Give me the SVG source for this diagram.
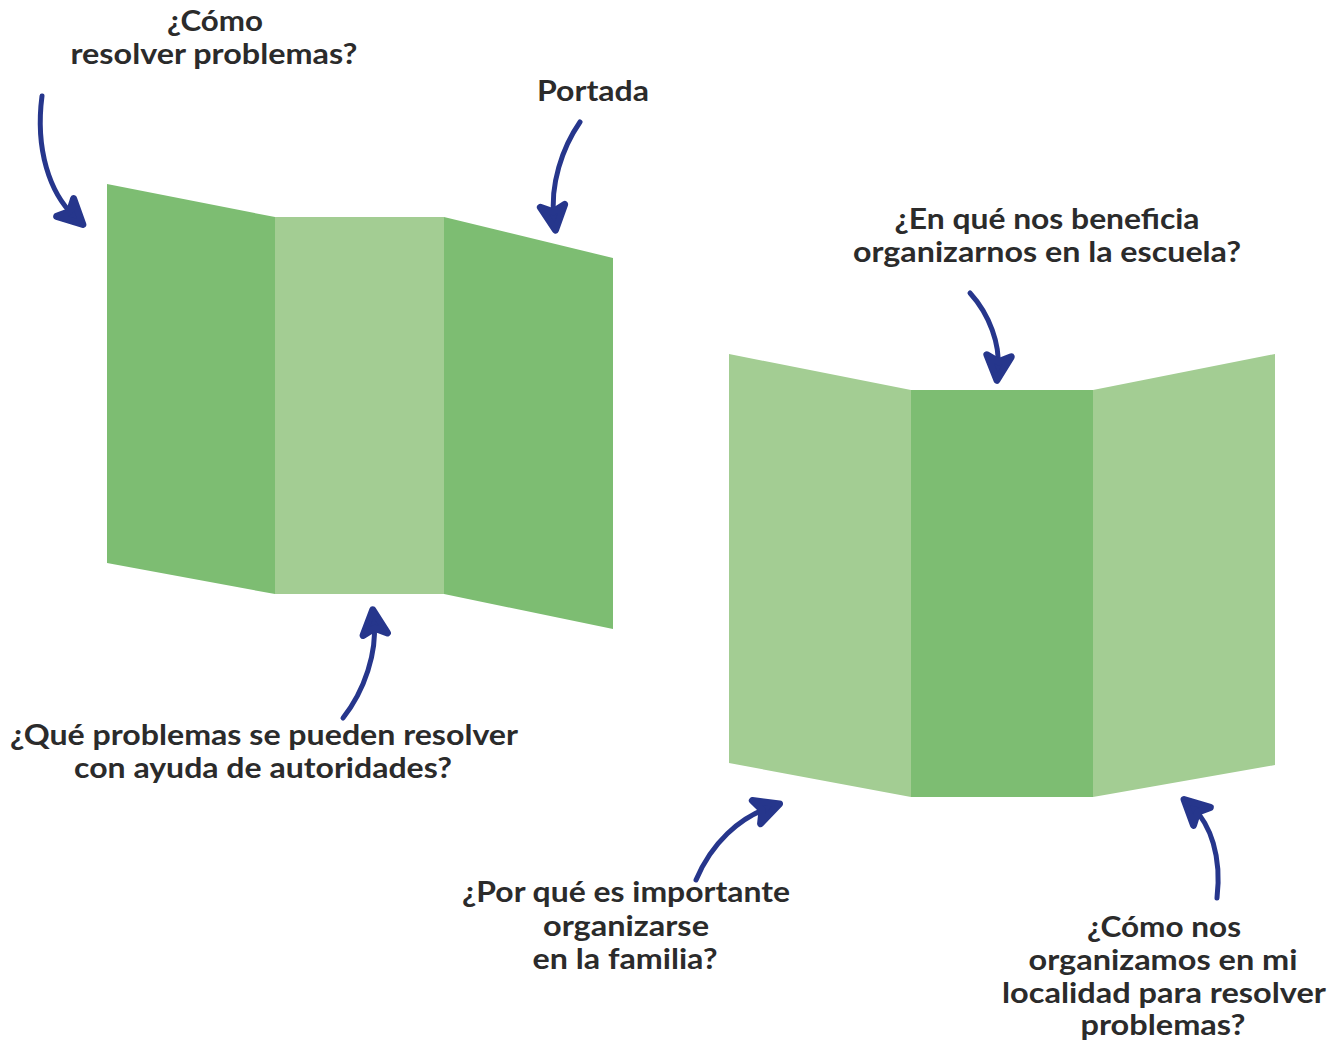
<svg xmlns="http://www.w3.org/2000/svg" width="1344" height="1042" viewBox="0 0 1344 1042">
<style>
.dk{fill:#7dbd72}
.lt{fill:#a3cd93}
.t{font-family:Lato,"Open Sans",sans-serif;font-weight:700;font-size:28px;fill:#2b2b2b;text-anchor:middle}
.c{fill:none;stroke:#26368c;stroke-width:5;stroke-linecap:round}
</style>
<defs>
<marker id="ah" viewBox="0 0 10 10" refX="5" refY="5" markerWidth="7" markerHeight="7" orient="auto" markerUnits="strokeWidth">
<path d="M1.5,1.5 L8.5,5 L1.5,8.5 L3.2,5 Z" fill="#26368c" stroke="#26368c" stroke-width="2" stroke-linejoin="round"/>
</marker>
</defs>
<rect width="1344" height="1042" fill="#ffffff"/>
<g id="leaflet1">
<polygon class="dk" points="107,184 275,217 275,594 107,563"/>
<polygon class="lt" points="275,217 444,217 444,594 275,594"/>
<polygon class="dk" points="444,217 613,258 613,629 444,594"/>
</g>
<g id="leaflet2">
<polygon class="lt" points="729,354 911,390 911,797 729,763"/>
<polygon class="dk" points="911,390 1093,390 1093,797 911,797"/>
<polygon class="lt" points="1093,390 1275,354 1275,765 1093,797"/>
</g>
<g id="connectors">
<path class="c" d="M42,96 C35,150 50,193 74,216" marker-end="url(#ah)"/>
<path class="c" d="M580,122 C562,148 550,185 554,218" marker-end="url(#ah)"/>
<path class="c" d="M343,718 C365,690 377,652 374,622" marker-end="url(#ah)"/>
<path class="c" d="M970,293 C990,315 1000,345 998,368" marker-end="url(#ah)"/>
<path class="c" d="M696,880 C712,842 740,818 768,808" marker-end="url(#ah)"/>
<path class="c" d="M1217,898 C1222,856 1210,824 1193,808" marker-end="url(#ah)"/>
</g>
<g id="label-como-resolver">
<text class="t" x="215" y="31" textLength="96" lengthAdjust="spacingAndGlyphs">¿Cómo</text>
<text class="t" x="214" y="64" textLength="287" lengthAdjust="spacingAndGlyphs">resolver problemas?</text>
</g>
<g id="label-portada">
<text class="t" x="593" y="101" textLength="112" lengthAdjust="spacingAndGlyphs">Portada</text>
</g>
<g id="label-beneficia">
<text class="t" x="1047" y="229" textLength="305" lengthAdjust="spacingAndGlyphs">¿En qué nos beneficia</text>
<text class="t" x="1047" y="262" textLength="388" lengthAdjust="spacingAndGlyphs">organizarnos en la escuela?</text>
</g>
<g id="label-autoridades">
<text class="t" x="264" y="745" textLength="508" lengthAdjust="spacingAndGlyphs">¿Qué problemas se pueden resolver</text>
<text class="t" x="263" y="778" textLength="378" lengthAdjust="spacingAndGlyphs">con ayuda de autoridades?</text>
</g>
<g id="label-familia">
<text class="t" x="626" y="902" textLength="328" lengthAdjust="spacingAndGlyphs">¿Por qué es importante</text>
<text class="t" x="626" y="936" textLength="166" lengthAdjust="spacingAndGlyphs">organizarse</text>
<text class="t" x="625" y="969" textLength="185" lengthAdjust="spacingAndGlyphs">en la familia?</text>
</g>
<g id="label-localidad">
<text class="t" x="1164" y="937" textLength="154" lengthAdjust="spacingAndGlyphs">¿Cómo nos</text>
<text class="t" x="1163" y="970" textLength="269" lengthAdjust="spacingAndGlyphs">organizamos en mi</text>
<text class="t" x="1164" y="1003" textLength="324" lengthAdjust="spacingAndGlyphs">localidad para resolver</text>
<text class="t" x="1163" y="1035" textLength="165" lengthAdjust="spacingAndGlyphs">problemas?</text>
</g>
</svg>
